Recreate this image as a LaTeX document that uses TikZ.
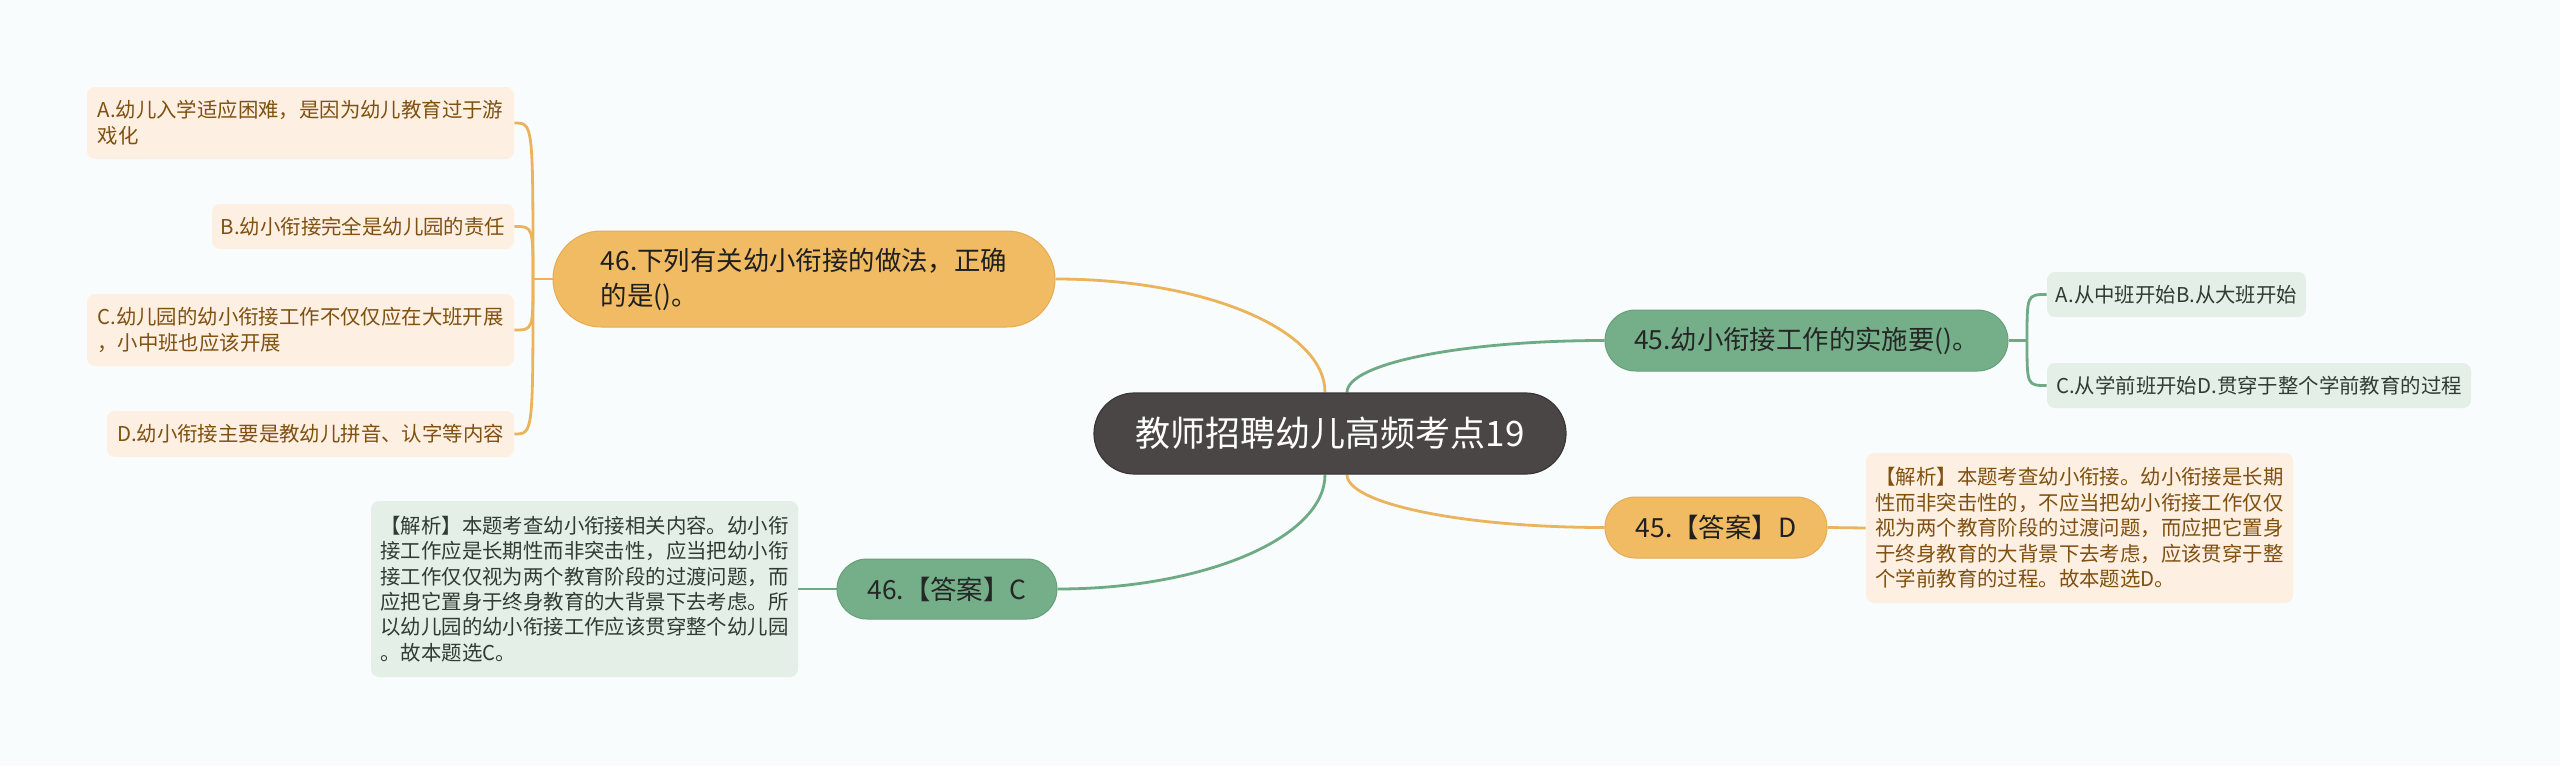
\documentclass[tikz,border=0pt]{standalone}
\usepackage{fontspec}
\newfontfamily\cjk{Noto Sans CJK SC}
\definecolor{bgc}{HTML}{F8FCFC}
\definecolor{rootc}{HTML}{4B4646}
\definecolor{rootd}{HTML}{3A3636}
\definecolor{orc}{HTML}{F0BB62}
\definecolor{ord}{HTML}{E3AC55}
\definecolor{grc}{HTML}{74AF89}
\definecolor{grd}{HTML}{66A07A}
\definecolor{peach}{HTML}{FDF0E3}
\definecolor{paleg}{HTML}{E4EFE7}
\definecolor{brownt}{HTML}{7F500F}
\definecolor{greent}{HTML}{2F3B33}
\definecolor{oline}{HTML}{EBB35C}
\definecolor{gline}{HTML}{6EAA84}
\pgfdeclarelayer{edges}
\pgfsetlayers{edges,main}
\tikzset{
  base/.style={inner sep=0pt, align=left},
  rootbox/.style={base, fill=rootc, draw=rootd, line width=0.6pt, text=white,
    font={\cjk\fontsize{17.5pt}{21pt}\selectfont}},
  obig/.style={base, fill=orc, draw=ord, line width=0.5pt, text=black!88,
    font={\cjk\fontsize{13.2pt}{17.5pt}\selectfont}},
  gbig/.style={base, fill=grc, draw=grd, line width=0.5pt, text=black!85,
    font={\cjk\fontsize{13.2pt}{17.5pt}\selectfont}},
  oleaf/.style={base, fill=peach, rounded corners=4pt, text=brownt,
    font={\cjk\fontsize{10.2pt}{12.8pt}\selectfont}},
  gleaf/.style={base, fill=paleg, rounded corners=4pt, text=greent,
    font={\cjk\fontsize{10.2pt}{12.65pt}\selectfont}},
  olink/.style={draw=oline, line width=1.4pt},
  glink/.style={draw=gline, line width=1.4pt},
}
\begin{document}
\begin{tikzpicture}[x=0.5pt,y=-0.5pt]
\useasboundingbox (0,0) rectangle (2560,766);
\begin{pgfonlayer}{edges}
\fill[bgc] (0,0) rectangle (2560,766);
\end{pgfonlayer}

% root
\node[rootbox, minimum width=236pt, minimum height=40.5pt, rounded corners=20.25pt] (root) at (1330,433.5) {教师招聘幼儿高频考点19};

% question 46 (orange, left)
\node[obig, minimum width=251pt, minimum height=48pt, rounded corners=24pt] (q46) at (804,279)
  {46.下列有关幼小衔接的做法，正确\\的是()。};
\node[oleaf, minimum width=213.5pt, minimum height=36pt] (oA) at (300.5,123)
  {A.幼儿入学适应困难，是因为幼儿教育过于游\\戏化};
\node[oleaf, minimum width=151pt, minimum height=22.5pt] (oB) at (363,226.5)
  {B.幼小衔接完全是幼儿园的责任};
\node[oleaf, minimum width=213.5pt, minimum height=36pt] (oC) at (300.5,330)
  {C.幼儿园的幼小衔接工作不仅仅应在大班开展\\，小中班也应该开展};
\node[oleaf, minimum width=203.5pt, minimum height=23pt] (oD) at (310.5,434)
  {D.幼小衔接主要是教幼儿拼音、认字等内容};

% question 45 (green, right)
\node[gbig, minimum width=201.5pt, minimum height=30.5pt, rounded corners=15.25pt] (q45) at (1806.5,340.5)
  {45.幼小衔接工作的实施要()。};
\node[gleaf, minimum width=129.5pt, minimum height=22.5pt] (gA) at (2176.5,294.5)
  {A.从中班开始B.从大班开始};
\node[gleaf, minimum width=212pt, minimum height=22.5pt] (gC) at (2259,385.5)
  {C.从学前班开始D.贯穿于整个学前教育的过程};

% answer 45 (orange, right)
\node[obig, minimum width=111pt, minimum height=30.5pt, rounded corners=15.25pt] (a45) at (1716,527.5)
  {45.【答案】D};
\node[oleaf, minimum width=213.5pt, minimum height=75pt] (e45) at (2079.5,528)
  {【解析】本题考查幼小衔接。幼小衔接是长期\\性而非突击性的，不应当把幼小衔接工作仅仅\\视为两个教育阶段的过渡问题，而应把它置身\\于终身教育的大背景下去考虑，应该贯穿于整\\个学前教育的过程。故本题选D。};

% answer 46 (green, left)
\node[gbig, minimum width=110pt, minimum height=30pt, rounded corners=15pt] (a46) at (947,589)
  {46.【答案】C};
\node[gleaf, minimum width=213.5pt, minimum height=88pt] (e46) at (584.5,589)
  {【解析】本题考查幼小衔接相关内容。幼小衔\\接工作应是长期性而非突击性，应当把幼小衔\\接工作仅仅视为两个教育阶段的过渡问题，而\\应把它置身于终身教育的大背景下去考虑。所\\以幼儿园的幼小衔接工作应该贯穿整个幼儿园\\。故本题选C。};

\coordinate (jl) at (533,279);
\coordinate (jr) at (2027,340.5);

\begin{pgfonlayer}{edges}
% root links
\draw[olink] ([xshift=-2.5pt]root.north) .. controls +(0,-63) and +(149,0) .. (q46.east);
\draw[glink] ([xshift=8.5pt]root.north) .. controls +(0,-29) and +(-142,0) .. (q45.west);
\draw[glink] ([xshift=-2.5pt]root.south) .. controls +(0,63) and +(147,0) .. (a46.east);
\draw[olink] ([xshift=8.5pt]root.south) .. controls +(0,29) and +(-142,0) .. (a45.west);
% left tree
\draw[olink] (q46.west) -- (jl);
\foreach \n in {oA,oB,oC,oD}
  \draw[olink] (jl) .. controls (jl |- \n.east) and (jl |- \n.east) .. (\n.east);
% right tree
\draw[glink] (q45.east) -- (jr);
\foreach \n in {gA,gC}
  \draw[glink] (jr) .. controls (jr |- \n.west) and (jr |- \n.west) .. (\n.west);
% answers to explanations
\draw[olink] (a45.east) -- (e45.west);
\draw[glink] (a46.west) -- (e46.east);
\end{pgfonlayer}
\end{tikzpicture}
\end{document}
